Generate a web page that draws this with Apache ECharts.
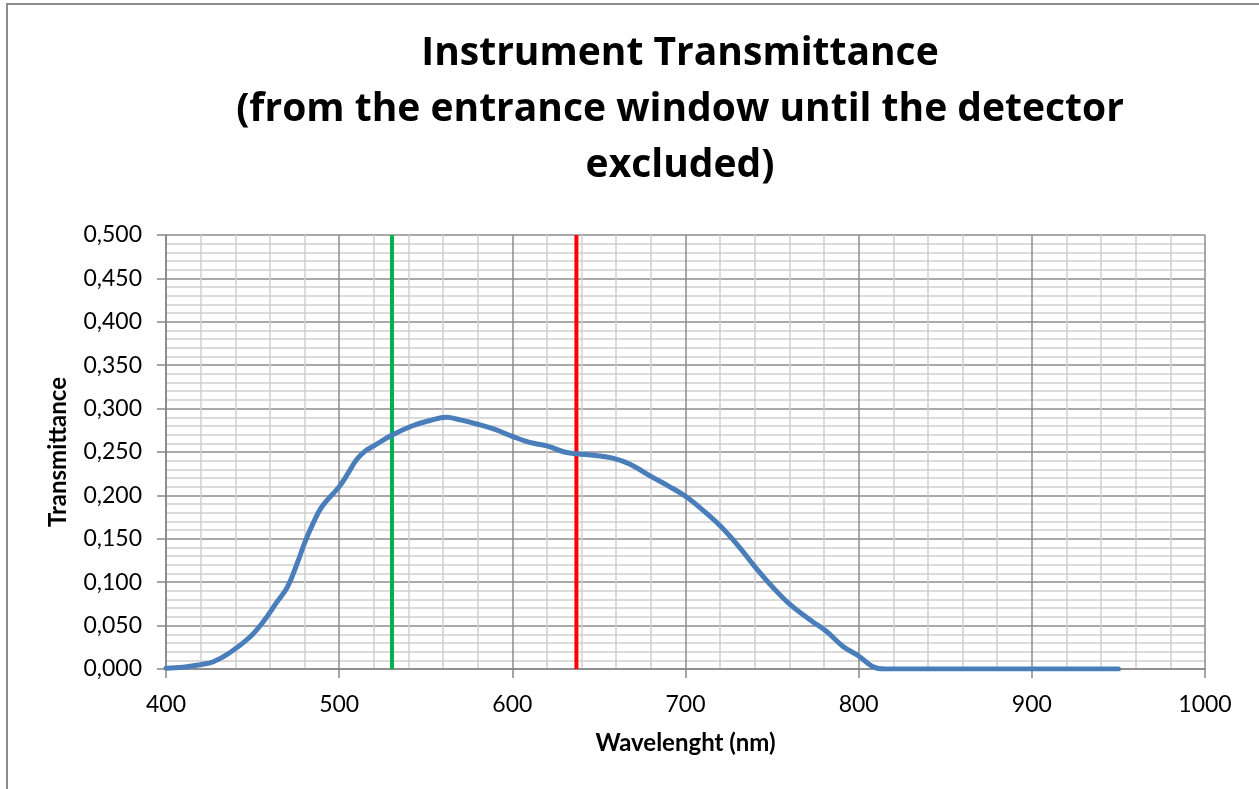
<!DOCTYPE html>
<html>
<head>
<meta charset="utf-8">
<script src="https://cdn.jsdelivr.net/npm/echarts@6/dist/echarts.min.js"></script>
<style>
  html, body { margin: 0; padding: 0; background: #fff; }
  #chart { width: 1259px; height: 789px; }
</style>
</head>
<body>
<div id="chart"></div>
<script>
// Measured transmittance of the optical path, entrance window to detector (detector excluded)
const wavelengths = [400, 410, 420, 427, 437, 448, 456, 464, 470, 476, 480, 485, 490, 500, 505, 510, 515, 520, 530, 542, 552, 562, 570, 580, 590, 600, 610, 620, 630, 637, 648, 658, 668, 679, 690, 700, 710, 720, 730, 740, 750, 760, 773, 781, 791, 800, 808, 815, 830, 850, 900, 950];
const transmittance = [0.001, 0.002, 0.005, 0.008, 0.019, 0.036, 0.054, 0.077, 0.094, 0.123, 0.145, 0.168, 0.187, 0.210, 0.225, 0.241, 0.251, 0.257, 0.269, 0.280, 0.286, 0.290, 0.287, 0.282, 0.276, 0.268, 0.261, 0.257, 0.250, 0.248, 0.246, 0.243, 0.236, 0.223, 0.211, 0.199, 0.183, 0.165, 0.143, 0.118, 0.095, 0.075, 0.055, 0.044, 0.026, 0.015, 0.003, 0.000, 0.000, 0.000, 0.000, 0.000];

// Laser lines marked on the spectrum (nm)
const greenLine = 530.5;
const redLine = 637;

const titleLines = ['Instrument Transmittance', '(from the entrance window until the detector', 'excluded)'];

const FONT = 'Lato, "Open Sans", sans-serif';
const TITLE_FONT = '"Open Sans", Lato, sans-serif';

const chart = echarts.init(document.getElementById('chart'), null, { renderer: 'canvas' });

const curve = wavelengths.map((w, i) => [w, transmittance[i]]);

chart.setOption({
  backgroundColor: '#ffffff',
  animation: false,
  title: {
    text: titleLines.join('\n'),
    left: 675,
    top: 21,
    textAlign: 'center',
    textStyle: {
      fontFamily: TITLE_FONT,
      fontSize: 39,
      fontWeight: 'bold',
      color: '#000',
      lineHeight: 56
    }
  },
  graphic: [{
    type: 'rect',
    shape: { x: 7, y: 4, width: 1400, height: 900 },
    style: { fill: 'none', stroke: '#8c8c8c', lineWidth: 2 },
    silent: true,
    z: -1
  }],
  grid: { left: 166, right: 54, top: 235, bottom: 120, containLabel: false },
  xAxis: {
    type: 'value',
    min: 400,
    max: 1000,
    interval: 100,
    name: 'Wavelenght (nm)',
    nameLocation: 'middle',
    nameGap: 62,
    nameTextStyle: { fontFamily: FONT, fontSize: 24, fontWeight: 'bold', color: '#000' },
    axisLine: { show: true, lineStyle: { color: '#868686', width: 1.5 } },
    axisTick: { show: true, length: 9, inside: false, lineStyle: { color: '#868686', width: 1.5 } },
    axisLabel: { margin: 24, fontFamily: FONT, fontSize: 23, color: '#000', formatter: v => String(v) },
    splitLine: { show: true, lineStyle: { color: '#8c8c8c', width: 1.5 } },
    minorTick: { show: false, splitNumber: 5 },
    minorSplitLine: { show: true, lineStyle: { color: '#cfcfcf', width: 1.5 } }
  },
  yAxis: {
    type: 'value',
    min: 0,
    max: 0.5,
    interval: 0.05,
    name: 'Transmittance',
    nameLocation: 'middle',
    nameGap: 96,
    nameRotate: 90,
    nameTextStyle: { fontFamily: FONT, fontSize: 24, fontWeight: 'bold', color: '#000' },
    axisLine: { show: true, lineStyle: { color: '#868686', width: 1.5 } },
    axisTick: { show: true, length: 9, inside: false, lineStyle: { color: '#868686', width: 1.5 } },
    axisLabel: {
      margin: 24,
      fontFamily: FONT,
      fontSize: 23,
      color: '#000',
      formatter: v => v.toFixed(3).replace('.', ',')
    },
    splitLine: { show: true, lineStyle: { color: '#8c8c8c', width: 1.5 } },
    minorTick: { show: false, splitNumber: 5 },
    minorSplitLine: { show: true, lineStyle: { color: '#cfcfcf', width: 1.5 } }
  },
  series: [
    {
      type: 'line',
      name: 'Green laser',
      data: [[greenLine, 0], [greenLine, 0.5]],
      showSymbol: false,
      lineStyle: { color: '#00b050', width: 4 },
      z: 3
    },
    {
      type: 'line',
      name: 'Red laser',
      data: [[redLine, 0], [redLine, 0.5]],
      showSymbol: false,
      lineStyle: { color: '#ff0000', width: 4 },
      z: 3
    },
    {
      type: 'line',
      name: 'Transmittance',
      data: curve,
      smooth: 0.4,
      showSymbol: false,
      lineStyle: { color: '#4a7ebb', width: 5, cap: 'round' },
      z: 4
    }
  ]
});
</script>
</body>
</html>
